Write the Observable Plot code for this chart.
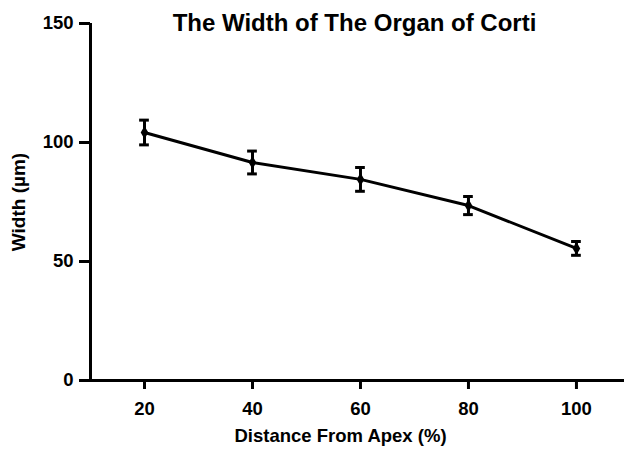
<!DOCTYPE html>
<html>
<head>
<meta charset="utf-8">
<script src="https://cdn.jsdelivr.net/npm/d3@7"></script>
<script src="https://cdn.jsdelivr.net/npm/@observablehq/plot@0.6"></script>
<style>
  html, body { margin: 0; padding: 0; background: #fff; }
  #chart svg { font-family: "Liberation Sans", Arial, sans-serif; font-weight: bold; }
</style>
</head>
<body>
<div id="chart"></div>
<script>
const distance = [20, 40, 60, 80, 100];
const width = [104.2, 91.6, 84.5, 73.5, 55.5];
const sem = [5.2, 4.8, 5.0, 3.8, 2.9];
const xTicks = [20, 40, 60, 80, 100];
const yTicks = [0, 50, 100, 150];
const title = "The Width of The Organ of Corti";
const xLabel = "Distance From Apex (%)";
const yLabel = "Width (µm)";

const data = distance.map((d, i) => ({x: d, y: width[i], lo: width[i] - sem[i], hi: width[i] + sem[i]}));

const chart = Plot.plot({
  width: 624,
  height: 453,
  marginLeft: 90,
  marginRight: 0,
  marginTop: 23,
  marginBottom: 73,
  x: {domain: [10, 108.9]},
  y: {domain: [0, 150]},
  marks: [
    Plot.axisX({ticks: xTicks, tickSize: 9, tickPadding: 12, strokeWidth: 3, fontSize: 18.5, fontWeight: "bold", label: null}),
    Plot.axisY({ticks: yTicks, tickSize: 11, tickPadding: 6, strokeWidth: 3, fontSize: 18.5, fontWeight: "bold", label: null}),
    Plot.ruleY([0], {strokeWidth: 3}),
    Plot.ruleX([10], {y1: 0, y2: 150, strokeWidth: 3}),
    Plot.line(data, {x: "x", y: "y", strokeWidth: 3}),
    Plot.ruleX(data, {x: "x", y1: "lo", y2: "hi", strokeWidth: 3}),
    Plot.ruleY(data, {y: "hi", x1: d => d.x - 0.9, x2: d => d.x + 0.9, strokeWidth: 3}),
    Plot.ruleY(data, {y: "lo", x1: d => d.x - 0.9, x2: d => d.x + 0.9, strokeWidth: 3}),
    Plot.dot(data, {x: "x", y: "y", symbol: "diamond", r: 4, fill: "black"}),
    Plot.text([title], {frameAnchor: "top", dx: -3, dy: -10, fontSize: 24, fontWeight: "bold"}),
    Plot.text([xLabel], {frameAnchor: "bottom", dx: -17, dy: 61, fontSize: 18.5, fontWeight: "bold"}),
    Plot.text([yLabel], {frameAnchor: "left", textAnchor: "middle", dx: -72, rotate: -90, fontSize: 19, fontWeight: "bold"})
  ]
});
document.getElementById("chart").append(chart);
</script>
</body>
</html>
